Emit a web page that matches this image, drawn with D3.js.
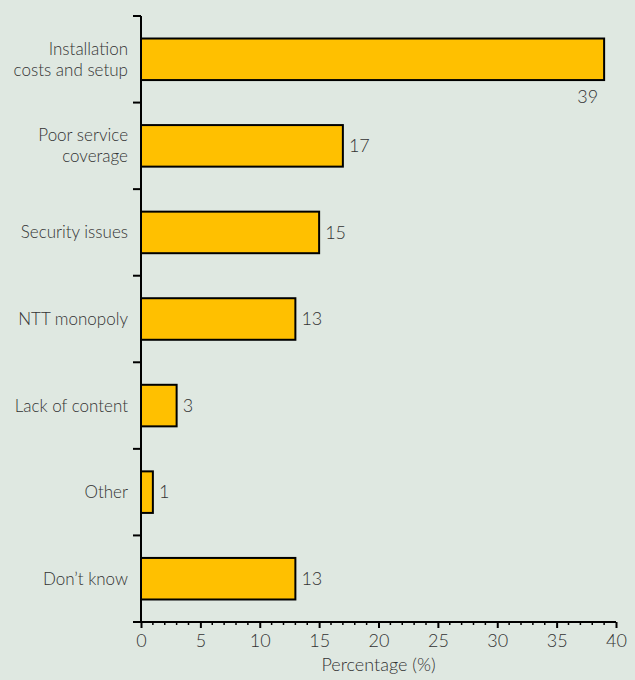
<!DOCTYPE html>
<html>
<head>
<meta charset="utf-8">
<script src="https://cdn.jsdelivr.net/npm/d3@7"></script>
<style>
  body { margin: 0; background: #dfe8e1; }
  text { font-family: "Lato", "Open Sans", sans-serif; font-weight: 300; fill: #333; }
</style>
</head>
<body>
<div id="chart"></div>
<script>
"use strict";

// data
var categories = ["Installation\ncosts and setup", "Poor service\ncoverage", "Security issues",
                  "NTT monopoly", "Lack of content", "Other", "Don\u2019t know"];
var values = [39, 17, 15, 13, 3, 1, 13];
var xTicks = [0, 5, 10, 15, 20, 25, 30, 35, 40];

var W = 635, H = 680;
var margin = {top: 16, right: 19, bottom: 58, left: 141};
var width = W - margin.left - margin.right,
    height = H - margin.top - margin.bottom;

var svg = d3.select("#chart").append("svg")
    .attr("width", W).attr("height", H)
    .style("background", "#dfe8e1");

var g = svg.append("g").attr("transform", `translate(${margin.left},${margin.top})`);

var x = d3.scaleLinear().domain([0, 40]).range([0, width]);
var y = d3.scaleBand().domain(categories).range([0, height]).paddingInner(0.52).paddingOuter(0.26);
var step = y.step();

// bars
g.selectAll("rect.bar")
    .data(values)
    .join("rect")
    .attr("class", "bar")
    .attr("x", 0)
    .attr("y", (d, i) => y(categories[i]))
    .attr("width", d => x(d))
    .attr("height", y.bandwidth())
    .attr("fill", "#ffc000")
    .attr("stroke", "#000")
    .attr("stroke-width", 2);

// value labels
g.selectAll("text.val")
    .data(values)
    .join("text")
    .attr("class", "val")
    .attr("font-size", 18)
    .attr("x", (d, i) => i === 0 ? x(d) - 6 : x(d) + 6)
    .attr("y", (d, i) => i === 0 ? y(categories[i]) + y.bandwidth() + 17 : y(categories[i]) + y.bandwidth() / 2)
    .attr("dy", "0.35em")
    .attr("text-anchor", (d, i) => i === 0 ? "end" : "start")
    .text(d => d);

// category labels
categories.forEach(function(c, i) {
    var lines = c.split("\n");
    var cy = y(c) + y.bandwidth() / 2;
    var t = g.append("text")
        .attr("font-size", 17)
        .attr("text-anchor", "end")
        .attr("x", -13)
        .attr("y", cy - (lines.length - 1) * 10.5);
    lines.forEach(function(l, j) {
        t.append("tspan").attr("x", -13).attr("dy", j === 0 ? "0.35em" : 21).text(l);
    });
});

// y axis line + boundary ticks
g.append("line").attr("x1", 0).attr("x2", 0).attr("y1", 0).attr("y2", height)
    .attr("stroke", "#000").attr("stroke-width", 2);
d3.range(categories.length).forEach(function(i) {
    g.append("line").attr("x1", -8).attr("x2", 0).attr("y1", i * step).attr("y2", i * step)
        .attr("stroke", "#000").attr("stroke-width", 2);
});

// x axis: major ticks
var xAxis = g.append("g")
    .attr("transform", `translate(0,${height})`)
    .call(d3.axisBottom(x).tickValues(xTicks).tickSize(6).tickSizeOuter(0).tickPadding(6));
xAxis.select(".domain").remove();
xAxis.selectAll(".tick line").attr("stroke", "#000").attr("stroke-width", 2);
xAxis.selectAll(".tick text").attr("font-size", 18).attr("font-family", null).attr("fill", "#333");

// minor ticks
g.append("g").attr("transform", `translate(0,${height})`)
    .selectAll("line")
    .data(d3.range(0, 41).filter(v => v % 5 !== 0))
    .join("line")
    .attr("x1", d => x(d)).attr("x2", d => x(d))
    .attr("y1", 0).attr("y2", 3)
    .attr("stroke", "#000").attr("stroke-width", 1.5);

g.append("line").attr("x1", -8).attr("x2", width).attr("y1", height).attr("y2", height)
    .attr("stroke", "#000").attr("stroke-width", 2);

// axis title
g.append("text")
    .attr("font-size", 18)
    .attr("text-anchor", "middle")
    .attr("x", width / 2)
    .attr("y", height + 49)
    .text("Percentage (%)");
</script>
</body>
</html>
